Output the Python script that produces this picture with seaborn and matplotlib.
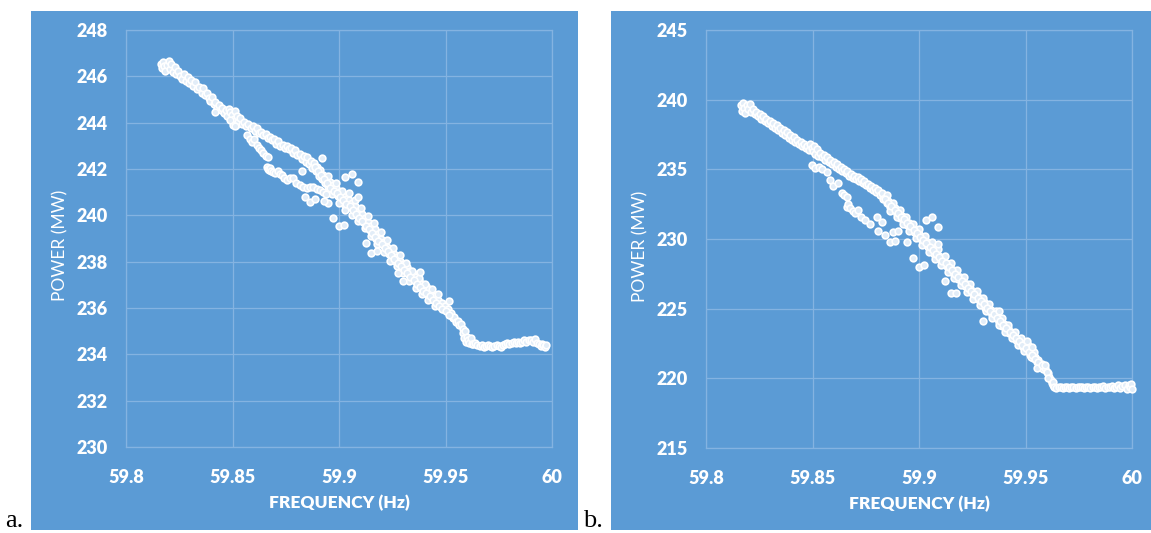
import matplotlib
matplotlib.use("Agg")
import matplotlib.pyplot as plt
from matplotlib.patches import Rectangle
import seaborn as sns
import pandas as pd

# ---------------- data: panel a ----------------
a_band_freq = [59.8165, 59.8168, 59.8175, 59.8180, 59.8185, 59.8192, 59.8200, 59.8205, 59.8212, 59.8220, 59.8228, 59.8235, 59.8245, 59.8255, 59.8265, 59.8272, 59.8280, 59.8290, 59.8298, 59.8305, 59.8315, 59.8325, 59.8335, 59.8345, 59.8355, 59.8362, 59.8370, 59.8380, 59.8388, 59.8395, 59.8405, 59.8412, 59.8420, 59.8428, 59.8436, 59.8445, 59.8452, 59.8460, 59.8468, 59.8475, 59.8482, 59.8490, 59.8498, 59.8505, 59.8510, 59.8515, 59.8520, 59.8528, 59.8535, 59.8545, 59.8555, 59.8565, 59.8575, 59.8585, 59.8595, 59.8605, 59.8615, 59.8625, 59.8635, 59.8645, 59.8655, 59.8665, 59.8675, 59.8685, 59.8695, 59.8705, 59.8715, 59.8725, 59.8735, 59.8745, 59.8755, 59.8765, 59.8775, 59.8785, 59.8795, 59.8805, 59.8815, 59.8825, 59.8835, 59.8845, 59.8852, 59.8860, 59.8868, 59.8875, 59.8882, 59.8890, 59.8897, 59.8905, 59.8912, 59.8920, 59.8927, 59.8935, 59.8942, 59.8950, 59.8957, 59.8965, 59.8972, 59.8980, 59.8987, 59.8995, 59.9002, 59.9010, 59.9017, 59.9025, 59.9032, 59.9040, 59.9047, 59.9055, 59.9062, 59.9070, 59.9077, 59.9085, 59.9092, 59.9100, 59.9107, 59.9115, 59.9122, 59.9130, 59.9137, 59.9145, 59.9152, 59.9160, 59.9167, 59.9175, 59.9182, 59.9190, 59.9197, 59.9205, 59.9212, 59.9220, 59.9227, 59.9235, 59.9242, 59.9250, 59.9257, 59.9265, 59.9272, 59.9280, 59.9287, 59.9295, 59.9302, 59.9310, 59.9317, 59.9325, 59.9332, 59.9340, 59.9347, 59.9355, 59.9362, 59.9370, 59.9377, 59.9385, 59.9392, 59.9400, 59.9407, 59.9415, 59.9422, 59.9430, 59.9437, 59.9445, 59.9452, 59.9460, 59.9467, 59.9475, 59.9482, 59.9490, 59.9497, 59.9505, 59.9512, 59.9520, 59.9527, 59.9535, 59.9542, 59.9550, 59.9557, 59.9565, 59.9572, 59.9580, 59.9583, 59.9588, 59.9590, 59.9595, 59.9600, 59.9605, 59.9612, 59.9620, 59.9625]
a_band_power = [246.55, 246.35, 246.6, 246.45, 246.25, 246.5, 246.65, 246.3, 246.55, 246.2, 246.4, 246.1, 246.25, 246.0, 245.9, 246.1, 245.8, 245.95, 245.7, 245.85, 245.6, 245.75, 245.45, 245.55, 245.3, 245.5, 245.2, 245.3, 245.05, 244.95, 245.1, 244.8, 244.9, 244.65, 244.75, 244.55, 244.65, 244.4, 244.55, 244.3, 244.6, 244.45, 244.35, 244.15, 244.5, 243.9, 244.3, 244.05, 244.2, 243.95, 244.05, 243.85, 243.95, 243.75, 243.85, 243.65, 243.75, 243.55, 243.6, 243.45, 243.5, 243.35, 243.4, 243.25, 243.3, 243.1, 243.2, 243.0, 243.05, 242.9, 243.0, 242.85, 242.9, 242.7, 242.8, 242.6, 242.65, 242.45, 242.55, 242.3, 242.5, 242.2, 242.35, 242.05, 242.25, 241.9, 242.1, 241.7, 241.95, 241.55, 241.75, 241.4, 241.6, 241.25, 241.45, 241.1, 241.3, 240.95, 241.2, 240.85, 241.0, 240.65, 240.85, 240.5, 240.7, 240.35, 240.65, 240.35, 240.55, 240.2, 240.4, 240.0, 240.2, 239.85, 240.05, 239.7, 239.9, 239.5, 239.7, 239.35, 239.55, 239.2, 239.4, 239.0, 239.2, 238.85, 239.0, 238.7, 238.85, 238.55, 238.65, 238.35, 238.5, 238.2, 238.35, 238.05, 238.2, 237.9, 238.05, 237.7, 237.9, 237.55, 237.75, 237.45, 237.6, 237.3, 237.5, 237.15, 237.35, 237.05, 237.2, 236.9, 237.05, 236.75, 236.95, 236.6, 236.8, 236.5, 236.65, 236.35, 236.5, 236.2, 236.35, 236.1, 236.2, 235.95, 236.1, 235.85, 235.95, 235.7, 235.8, 235.55, 235.6, 235.4, 235.45, 235.25, 235.3, 235.1, 234.9, 234.7, 235.0, 234.55, 234.75, 234.6, 234.5, 234.7, 234.45]

a_edge_freq = [59.8950, 59.8965, 59.8985, 59.9000, 59.9015, 59.9030, 59.9045, 59.9060, 59.9075, 59.9090, 59.9105, 59.9120, 59.9135, 59.9150, 59.9165, 59.9180, 59.9195, 59.9210, 59.9225, 59.9240, 59.9255, 59.9270, 59.9285, 59.9300, 59.9315, 59.9330, 59.9345, 59.9360, 59.9375, 59.9390, 59.9405, 59.9420, 59.9435, 59.9450, 59.9465]
a_edge_power = [241.7, 240.9, 241.4, 240.55, 241.05, 240.25, 240.95, 240.0, 240.65, 239.75, 240.3, 239.45, 239.95, 239.1, 239.65, 238.75, 239.3, 238.4, 238.95, 238.05, 238.6, 237.8, 238.3, 237.5, 237.95, 237.15, 237.6, 236.85, 237.3, 236.6, 237.05, 236.35, 236.8, 236.1, 236.6]

a_core_freq = [59.8885, 59.8900, 59.8915, 59.8930, 59.8945, 59.8960, 59.8975, 59.8990, 59.9005, 59.9020, 59.9035, 59.9050, 59.9065, 59.9080, 59.9095, 59.9110, 59.9125, 59.9140, 59.9155, 59.9170, 59.9185, 59.9200, 59.9215, 59.9230, 59.9245, 59.9260, 59.9275, 59.9290, 59.9305, 59.9320, 59.9335, 59.9350, 59.9365, 59.9380, 59.9395, 59.9410, 59.9425, 59.9440, 59.9455, 59.9470, 59.9485, 59.9500, 59.9515]
a_core_power = [242.1, 241.9, 241.75, 241.55, 241.4, 241.2, 241.05, 240.95, 240.8, 240.65, 240.5, 240.4, 240.25, 240.05, 239.9, 239.75, 239.55, 239.4, 239.25, 239.05, 238.9, 238.75, 238.6, 238.45, 238.3, 238.1, 237.95, 237.8, 237.65, 237.5, 237.35, 237.2, 237.05, 236.9, 236.75, 236.65, 236.5, 236.35, 236.2, 236.1, 235.95, 235.85, 235.7]

a_loop_freq = [59.8570, 59.8582, 59.8592, 59.8600, 59.8614, 59.8625, 59.8635, 59.8645, 59.8658, 59.8668, 59.8661, 59.8665, 59.8670, 59.8675, 59.8680, 59.8690, 59.8700, 59.8712, 59.8722, 59.8731, 59.8742, 59.8754, 59.8770, 59.8786, 59.8800, 59.8815, 59.8833, 59.8850, 59.8865, 59.8879, 59.8895, 59.8911, 59.8925, 59.8940, 59.8840, 59.8864, 59.8887, 59.8950, 59.8930, 59.8825, 59.8920, 59.9030, 59.9060, 59.9091, 59.9088, 59.8973, 59.9000, 59.9025, 59.9125, 59.9149, 59.9177, 59.9275, 59.9300, 59.9382, 59.9516, 59.8504, 59.8512, 59.8490, 59.8418]
a_loop_power = [243.45, 243.28, 243.15, 243.3, 243.04, 242.9, 242.8, 242.68, 242.55, 242.53, 242.1, 242.0, 241.96, 242.05, 241.9, 241.85, 241.82, 241.9, 241.78, 241.74, 241.6, 241.53, 241.6, 241.6, 241.4, 241.3, 241.24, 241.2, 241.22, 241.24, 241.15, 241.1, 241.0, 240.9, 240.81, 240.59, 240.69, 240.52, 240.6, 241.93, 242.46, 241.64, 241.78, 241.45, 240.81, 239.87, 239.54, 239.6, 238.8, 238.39, 238.47, 237.5, 237.16, 237.54, 236.3, 243.9, 243.85, 244.1, 244.47]

a_flat_freq = [59.9630, 59.9640, 59.9650, 59.9660, 59.9670, 59.9680, 59.9690, 59.9700, 59.9710, 59.9720, 59.9730, 59.9740, 59.9750, 59.9760, 59.9770, 59.9780, 59.9790, 59.9800, 59.9810, 59.9820, 59.9830, 59.9840, 59.9850, 59.9860, 59.9870, 59.9880, 59.9890, 59.9900, 59.9910, 59.9920, 59.9930, 59.9940, 59.9950, 59.9955, 59.9960, 59.9965, 59.9970]
a_flat_power = [234.45, 234.5, 234.4, 234.35, 234.4, 234.3, 234.35, 234.4, 234.35, 234.3, 234.35, 234.4, 234.35, 234.3, 234.4, 234.45, 234.5, 234.45, 234.5, 234.55, 234.5, 234.55, 234.5, 234.55, 234.6, 234.55, 234.6, 234.6, 234.55, 234.65, 234.5, 234.45, 234.35, 234.45, 234.4, 234.3, 234.4]

# ---------------- data: panel b ----------------
b_band_freq = [59.8165, 59.8170, 59.8175, 59.8180, 59.8185, 59.8192, 59.8198, 59.8205, 59.8212, 59.8220, 59.8228, 59.8236, 59.8244, 59.8252, 59.8260, 59.8268, 59.8276, 59.8284, 59.8292, 59.8300, 59.8308, 59.8316, 59.8324, 59.8332, 59.8340, 59.8348, 59.8356, 59.8364, 59.8372, 59.8380, 59.8388, 59.8396, 59.8404, 59.8412, 59.8420, 59.8428, 59.8436, 59.8444, 59.8452, 59.8460, 59.8468, 59.8476, 59.8484, 59.8490, 59.8496, 59.8502, 59.8508, 59.8514, 59.8520, 59.8528, 59.8536, 59.8544, 59.8552, 59.8560, 59.8568, 59.8576, 59.8584, 59.8592, 59.8600, 59.8608, 59.8616, 59.8624, 59.8632, 59.8640, 59.8648, 59.8656, 59.8664, 59.8672, 59.8680, 59.8688, 59.8696, 59.8704, 59.8712, 59.8720, 59.8728, 59.8736, 59.8744, 59.8752, 59.8760, 59.8768, 59.8776, 59.8784, 59.8792, 59.8800, 59.8808, 59.8816, 59.8824,
               59.8832, 59.8840, 59.8848, 59.8856, 59.8864, 59.8872, 59.8880, 59.8888, 59.8896, 59.8904, 59.8912, 59.8920, 59.8928, 59.8936, 59.8944, 59.8952, 59.8960, 59.8968, 59.8976, 59.8984, 59.8992, 59.9000, 59.9008, 59.9016, 59.9024, 59.9032, 59.9040, 59.9048, 59.9056, 59.9064, 59.9072, 59.9080, 59.9088, 59.9096, 59.9104, 59.9112, 59.9120, 59.9128, 59.9136, 59.9144, 59.9152, 59.9160, 59.9168, 59.9176, 59.9184, 59.9192, 59.9200, 59.9208, 59.9216, 59.9224, 59.9232, 59.9240, 59.9248, 59.9256, 59.9264, 59.9272, 59.9280, 59.9288, 59.9296, 59.9304, 59.9312, 59.9320, 59.9328, 59.9336, 59.9344, 59.9352, 59.9360, 59.9368, 59.9376, 59.9384, 59.9392, 59.9400, 59.9408, 59.9416, 59.9424, 59.9432, 59.9440, 59.9448, 59.9456, 59.9464, 59.9472, 59.9480, 59.9488, 59.9496, 59.9504, 59.9512, 59.9520, 59.9528, 59.9536, 59.9544, 59.9552, 59.9560, 59.9568, 59.9576, 59.9584, 59.9592, 59.9600, 59.9606, 59.9612, 59.9618, 59.9624, 59.9630]
b_band_power = [239.6, 239.2, 239.75, 239.4, 239.05, 239.6, 239.3, 239.7, 239.15, 239.35, 239.0, 239.15, 238.8, 238.95, 238.6, 238.8, 238.45, 238.6, 238.3, 238.45, 238.1, 238.3, 237.95, 238.15, 237.8, 237.95, 237.6, 237.8, 237.45, 237.65, 237.25, 237.45, 237.1, 237.3, 236.95, 237.1, 236.8, 236.95, 236.65, 236.8, 236.5, 236.7, 236.4, 236.85, 236.55, 236.3, 236.7, 236.1, 236.45, 235.95, 236.2, 235.85, 236.0, 235.7, 235.85, 235.5, 235.65, 235.35, 235.5, 235.2, 235.35, 235.05, 235.2, 234.9, 235.05, 234.75, 234.9, 234.55, 234.7, 234.4, 234.55, 234.3, 234.45, 234.15, 234.3, 234.0, 234.15, 233.85, 233.95, 233.65, 233.8, 233.5, 233.65, 233.35, 233.5, 233.15, 233.3,
                232.85, 232.95, 232.55, 232.7, 232.3, 232.45, 232.05, 232.2, 231.8, 231.9, 231.5, 231.65, 231.25, 231.4, 231.0, 231.15, 230.75, 230.85, 230.5, 230.6, 230.25, 230.35, 230.0, 230.1, 229.7, 229.85, 229.45, 229.6, 229.2, 229.3, 228.95, 229.05, 228.7, 228.8, 228.45, 228.55, 228.15, 228.3, 227.9, 228.05, 227.65, 227.75, 227.4, 227.5, 227.15, 227.25, 226.9, 227.0, 226.6, 226.75, 226.35, 226.45, 226.1, 226.2, 225.85, 225.95, 225.6, 225.7, 225.3, 225.45, 225.05, 225.2, 224.8, 224.9, 224.55, 224.65, 224.3, 224.4, 224.05, 224.15, 223.75, 223.9, 223.5, 223.6, 223.25, 223.35, 223.0, 223.1, 222.75, 222.85, 222.5, 222.55, 222.25, 222.3, 222.0, 222.05, 221.7, 221.8, 221.45, 221.55, 221.2, 221.3, 220.95, 221.0, 220.7, 220.75, 220.45, 220.35, 220.1, 219.9, 219.7, 219.5]

b_edge_freq = [59.8850, 59.8865, 59.8880, 59.8895, 59.8910, 59.8925, 59.8940, 59.8955, 59.8970, 59.8985, 59.9000, 59.9015, 59.9030, 59.9045, 59.9060, 59.9075, 59.9090, 59.9105, 59.9120, 59.9135, 59.9150, 59.9165, 59.9180, 59.9195, 59.9210, 59.9225, 59.9240, 59.9255, 59.9270, 59.9285, 59.9300, 59.9315, 59.9330, 59.9345, 59.9360, 59.9375, 59.9390, 59.9405, 59.9420, 59.9435, 59.9450, 59.9465, 59.9480, 59.9495, 59.9510, 59.9525, 59.9540]
b_edge_power = [233.15, 232.0, 232.6, 231.55, 232.1, 231.05, 231.6, 230.6, 231.1, 230.05, 230.7, 229.6, 230.2, 229.1, 229.75, 228.6, 229.25, 228.15, 228.75, 227.65, 228.25, 227.2, 227.75, 226.7, 227.25, 226.2, 226.8, 225.7, 226.3, 225.25, 225.8, 224.8, 225.3, 224.3, 224.8, 223.85, 224.35, 223.35, 223.85, 222.9, 223.35, 222.4, 222.9, 221.95, 222.4, 221.5, 221.9]

b_core_freq = [59.8840, 59.8855, 59.8870, 59.8885, 59.8900, 59.8915, 59.8930, 59.8945, 59.8960, 59.8975, 59.8990, 59.9005, 59.9020, 59.9035, 59.9050, 59.9065, 59.9080, 59.9095, 59.9110, 59.9125, 59.9140, 59.9155, 59.9170, 59.9185, 59.9200, 59.9215, 59.9230, 59.9245, 59.9260, 59.9275, 59.9290, 59.9305, 59.9320, 59.9335, 59.9350, 59.9365, 59.9380, 59.9395, 59.9410, 59.9425, 59.9440, 59.9455, 59.9470, 59.9485, 59.9500, 59.9515, 59.9530, 59.9545, 59.9560]
b_core_power = [232.85, 232.6, 232.35, 232.1, 231.85, 231.6, 231.4, 231.15, 230.9, 230.65, 230.4, 230.15, 229.9, 229.7, 229.45, 229.2, 228.95, 228.7, 228.45, 228.25, 228.0, 227.75, 227.5, 227.25, 227.0, 226.75, 226.5, 226.3, 226.05, 225.8, 225.55, 225.3, 225.05, 224.8, 224.6, 224.35, 224.1, 223.85, 223.6, 223.35, 223.1, 222.9, 222.65, 222.4, 222.15, 221.9, 221.65, 221.4, 221.15]

b_loop_freq = [59.8496, 59.8512, 59.8530, 59.8545, 59.8567, 59.8582, 59.8598, 59.8621, 59.8637, 59.8650, 59.8661, 59.8661, 59.8668, 59.8676, 59.8690, 59.8700, 59.8715, 59.8730, 59.8746, 59.8770, 59.8801, 59.8825, 59.8809, 59.8840, 59.8864, 59.8887, 59.8879, 59.8903, 59.8942, 59.8973, 59.9002, 59.9025, 59.9031, 59.9060, 59.9091, 59.9091, 59.9122, 59.9149, 59.9174, 59.9299, 59.9377, 59.9509, 59.9531, 59.9556, 59.9576, 59.9592, 59.9602, 59.9606, 59.9631]
b_loop_power = [235.31, 235.07, 235.2, 235.0, 234.83, 234.23, 233.8, 233.99, 233.28, 233.15, 233.04, 232.32, 232.5, 232.2, 232.0, 231.84, 232.08, 231.6, 231.36, 231.07, 231.6, 231.24, 230.6, 230.28, 229.8, 229.85, 230.52, 230.6, 229.8, 228.61, 228.01, 228.11, 231.36, 231.55, 230.88, 229.64, 227.0, 226.1, 226.1, 224.13, 224.85, 222.7, 222.22, 220.71, 220.95, 220.95, 220.47, 220.0, 219.75]

b_flat_freq = [59.9635, 59.9645, 59.9655, 59.9665, 59.9675, 59.9685, 59.9695, 59.9705, 59.9715, 59.9725, 59.9735, 59.9745, 59.9755, 59.9765, 59.9775, 59.9785, 59.9795, 59.9805, 59.9815, 59.9825, 59.9835, 59.9845, 59.9855, 59.9865, 59.9875, 59.9885, 59.9895, 59.9905, 59.9915, 59.9925, 59.9935, 59.9945, 59.9955, 59.9965, 59.9975, 59.9985, 59.9990, 59.9995, 59.9998]
b_flat_power = [219.35, 219.3, 219.4, 219.35, 219.3, 219.4, 219.35, 219.3, 219.35, 219.4, 219.3, 219.35, 219.4, 219.35, 219.3, 219.4, 219.35, 219.3, 219.4, 219.35, 219.3, 219.4, 219.35, 219.45, 219.3, 219.4, 219.35, 219.45, 219.3, 219.4, 219.5, 219.3, 219.45, 219.55, 219.25, 219.5, 219.35, 219.6, 219.2]

x_ticks = [59.8, 59.85, 59.9, 59.95, 60]
x_tick_labels = ["59.8", "59.85", "59.9", "59.95", "60"]
a_y_ticks = [230, 232, 234, 236, 238, 240, 242, 244, 246, 248]
b_y_ticks = [215, 220, 225, 230, 235, 240, 245]

# ---------------- style ----------------
BLUE = "#5B9BD5"
GRID = "#84B3E1"
FONT = ["Lato", "DejaVu Sans"]

sns.set_style("white")
plt.rcParams["font.family"] = FONT

W, H = 1151, 533
fig = plt.figure(figsize=(W / 100, H / 100), dpi=100)
fig.patch.set_facecolor("white")

# blue chart-area panels (behind the axes)
fig.patches.append(Rectangle((31 / W, 3 / H), 547 / W, 519 / H, transform=fig.transFigure,
                             facecolor=BLUE, edgecolor="none", zorder=-10))
fig.patches.append(Rectangle((611 / W, 3 / H), 540 / W, 519 / H, transform=fig.transFigure,
                             facecolor=BLUE, edgecolor="none", zorder=-10))

ax_a = fig.add_axes([126 / W, (H - 447) / H, 426 / W, 417 / H])
ax_b = fig.add_axes([706 / W, (H - 448) / H, 426 / W, 418 / H])


def panel_df(parts):
    fr, pw = [], []
    for f, p in parts:
        fr += f
        pw += p
    return pd.DataFrame({"freq": fr, "power": pw})


df_a = panel_df([(a_band_freq, a_band_power), (a_edge_freq, a_edge_power),
                 (a_core_freq, a_core_power),
                 (a_loop_freq, a_loop_power), (a_flat_freq, a_flat_power)])
df_b = panel_df([(b_band_freq, b_band_power), (b_edge_freq, b_edge_power),
                 (b_core_freq, b_core_power),
                 (b_loop_freq, b_loop_power), (b_flat_freq, b_flat_power)])

for ax, df, yt in [(ax_a, df_a, a_y_ticks), (ax_b, df_b, b_y_ticks)]:
    ax.set_zorder(5)
    ax.set_facecolor(BLUE)
    sns.scatterplot(data=df, x="freq", y="power", ax=ax, s=23, marker="o",
                    facecolor="#e2edf8", edgecolor="white", linewidth=1.2,
                    zorder=3, clip_on=False, legend=False)
    ax.set_xlim(59.8, 60)
    ax.set_ylim(yt[0], yt[-1])
    ax.set_xticks(x_ticks)
    ax.set_xticklabels(x_tick_labels)
    ax.set_yticks(yt)
    ax.set_yticklabels([str(v) for v in yt])
    ax.grid(True, color=GRID, linewidth=0.9)
    ax.set_axisbelow(True)
    for sp in ax.spines.values():
        sp.set_visible(True)
        sp.set_color(GRID)
        sp.set_linewidth(0.9)
    ax.tick_params(axis="both", length=0, colors="white", labelsize=13)
    ax.tick_params(axis="y", pad=13)
    ax.tick_params(axis="x", pad=16)
    for lab in ax.get_xticklabels() + ax.get_yticklabels():
        lab.set_fontweight("heavy")
        lab.set_family(FONT)
    ax.set_xlabel("FREQUENCY (Hz)", color="white", fontsize=12.5, fontweight="heavy",
                  family=FONT, va="center")
    ax.set_ylabel("POWER (MW)", color="white", fontsize=12.5, family=FONT, va="center")
    ax.xaxis.set_label_coords(0.5, (447 - 503) / 417)
    ax.yaxis.set_label_coords((60 - 126) / 426, 0.483)

fig.text(5 / W, 6 / H, "a.", family=["Liberation Serif", "DejaVu Serif"], fontsize=19,
         color="black", va="baseline", ha="left")
fig.text(583 / W, 6 / H, "b.", family=["Liberation Serif", "DejaVu Serif"], fontsize=19,
         color="black", va="baseline", ha="left")

fig.savefig("out.png", dpi=100, facecolor="white")
